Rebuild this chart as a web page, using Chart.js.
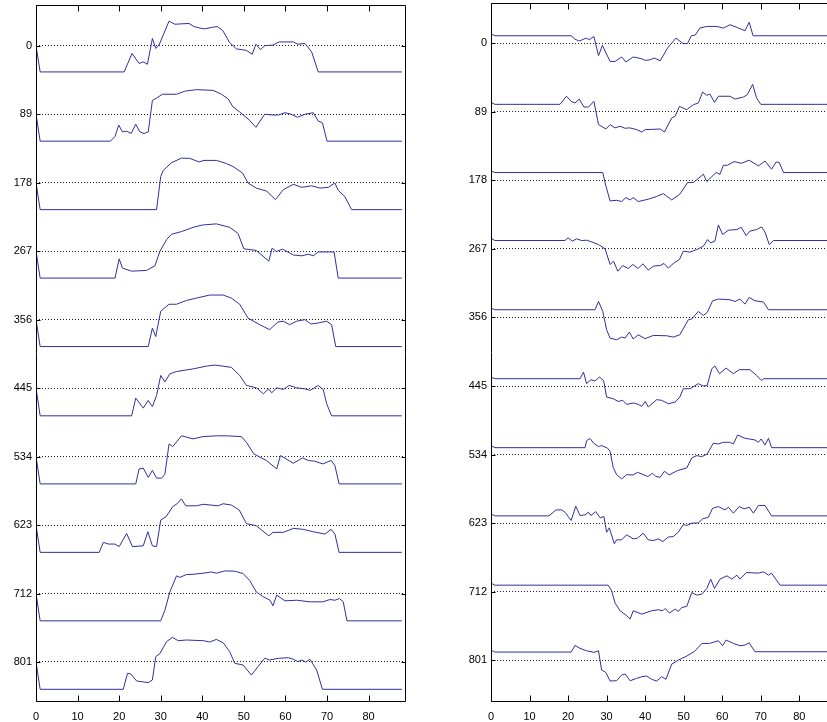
<!DOCTYPE html>
<html>
<head>
<meta charset="utf-8">
<script src="https://cdn.jsdelivr.net/npm/chart.js@4/dist/chart.umd.min.js"></script>
<style>
  html, body { margin: 0; padding: 0; background: #fff; overflow: hidden; }
  #wrap { position: relative; width: 827px; height: 722px; overflow: hidden; }
  #c1 { position: absolute; left: 0; top: 0; }
  #c2 { position: absolute; left: 455px; top: 0; }
</style>
</head>
<body>
<div id="wrap">
  <canvas id="c1" width="410" height="722"></canvas>
  <canvas id="c2" width="380" height="722"></canvas>
</div>
<script>
// channel offsets / y tick labels (same for both panels)
const offsets = [0, 89, 178, 267, 356, 445, 534, 623, 712, 801];
const xTicks = [0, 10, 20, 30, 40, 50, 60, 70, 80];

// left panel traces: [x, deviation from offset] (axis is reversed, + is down)
const L0 = [[0,0],[1,34],[21.2,34],[23.1,10],[24.8,23],[25.8,21],[26.8,24],[28,-9.5],[28.8,3.5],[29.6,-1],[32,-32],[33.4,-28],[36.8,-29],[38,-25],[39.4,-23],[40.6,-22],[42.4,-24],[43.6,-25],[44.9,-20],[46.6,-4],[48.2,4],[50.6,6],[52,11],[52.9,-2],[54,5],[55,0],[57,-1],[58.5,-5],[61.9,-5],[63,-2],[64.7,-3],[66.3,8],[67.9,34],[88,34]];
const L1 = [[0,0],[1,35],[17.9,35],[19,29],[19.9,14],[20.8,23],[21.8,22],[22.9,25],[24,13],[25,23],[26,25],[27,23],[28,-18],[29,-21],[30.4,-26],[33.8,-26],[35.8,-30],[38.6,-32],[42.6,-31],[44.6,-26],[46.2,-20],[47.4,-9.5],[49,-3],[51.4,8],[52.9,17],[55,0],[57,1],[58.3,1],[59.9,-2],[61.4,0],[62.9,4],[64.7,0],[66.7,-2],[67.9,9],[68.9,11],[70,35],[88,35]];
const L2 = [[0,0],[1,35],[29,35],[30,-8],[30.6,-16],[32.6,-26],[35,-32],[37,-31.6],[39.2,-27],[40.4,-29],[43.4,-29],[45.8,-25],[47.4,-21],[49.7,-12.5],[51,0.4],[53,7],[55.5,11],[57.6,22],[59.5,9],[61.9,2],[63.9,6],[66.3,4],[68.3,7],[70.3,6],[71.9,0.4],[72.7,10],[74.3,18],[75.9,35],[88,35]];
const L3 = [[0,0],[1,35],[19,35],[20,10],[20.8,22],[23,26],[26.6,25],[28.6,19],[29.8,0.4],[31.4,-15],[32.6,-22],[35,-25.5],[37.8,-31],[40,-34],[43.4,-35.5],[46.6,-31],[48.6,-23],[50,-3],[53,-1],[56,13],[56.8,-4],[57.8,0.4],[59.3,-2.6],[61.9,5],[63.9,6],[65.5,4],[66.7,6],[67.9,1],[71.7,1],[72.7,35],[88,35]];
const L4 = [[0,0],[1,35],[27,35],[28,11],[28.8,22],[30,-11],[32,-20],[33.8,-20],[36.2,-25],[38.6,-28],[41.8,-32],[45,-32],[47,-28],[49,-20],[51,-2],[53.8,6.5],[56.2,13],[58.2,3],[59.5,2],[61,6.5],[62.7,2],[64.7,0],[66.1,5.6],[67.9,4.3],[69.9,2],[71.1,6.5],[72.1,35],[88,35]];
const L5 = [[0,0],[1,36],[23,36],[24,13],[25.8,26],[27,16],[28,24],[29,9.5],[30,-16.5],[31,-8],[32.2,-18.6],[33.8,-21.6],[37.8,-25],[41,-28.6],[43,-30],[47,-27],[49,-16.5],[50.6,-3.5],[53,-0.4],[54.7,7.4],[55.9,1],[56.7,6],[57.9,-0.4],[59.5,1.7],[60.9,-3.5],[62.7,-0.4],[64.7,1],[65.9,3],[67.9,-3.5],[69.1,2],[69.9,20],[71.1,36],[88,36]];
const L6 = [[0,0],[1,35.5],[24,35.5],[24.8,16],[25.8,15],[27,27],[28,18],[29,28],[30.2,28],[31,23],[32,-16.5],[32.9,-13],[35,-27],[37.8,-23],[40.2,-26],[43.4,-27],[45.8,-27],[49.4,-26],[50.6,-18.6],[52.4,-3.5],[55.4,5],[57.9,16],[58.8,-1.3],[61.9,8.7],[64.1,1.7],[65.5,5],[67,6],[69,9.5],[71,5],[71.9,11.7],[72.9,35.5],[88,35.5]];
const L7 = [[0,0],[1,35.5],[15.2,35.5],[16.2,22.5],[17.4,24.7],[19,24.7],[20,28],[21.8,11],[23.2,28],[25.8,27],[26.9,8.7],[28,27],[29,28],[30,-6.5],[31.3,-11],[32.9,-24],[34,-28],[35,-34],[36,-25],[38.6,-25],[40.2,-27],[43.8,-25],[45,-27.7],[47,-26],[48.9,-19.5],[50.6,-2],[53,1],[56,14],[57,9.5],[59.5,9.5],[61.9,4.3],[64.3,5.6],[66.7,8.7],[69.5,11.7],[71,5.6],[71.9,11.7],[72.9,35.5],[88,35.5]];
const L8 = [[0,0],[1,35.5],[30,35.5],[31,21.6],[32.2,-2],[33.8,-23],[34.6,-21],[36.2,-24.7],[37.8,-25],[40.2,-26.4],[42.2,-28],[43.4,-26.4],[45.4,-29.4],[47.8,-29],[49.8,-26],[51.4,-17],[53,-2],[54.7,4.3],[56.3,8.7],[57,16],[57.9,2],[59.9,9.5],[62.7,8.7],[65.9,10.8],[69,10.8],[70.7,7.8],[71.9,8.7],[73,6.5],[73.9,10.8],[74.8,35.5],[88,35.5]];
const L9 = [[0,0],[1,35.5],[21,35.5],[22,14.7],[22.8,15.6],[24.2,24.7],[27,26.8],[28,23.4],[28.8,-7],[29.8,-11],[31.4,-26.4],[32.8,-32],[34.2,-27.7],[36.2,-28.6],[40.2,-27.7],[41.8,-26],[43.4,-29.4],[45,-25],[46.6,-13.4],[47.8,1.7],[49.8,3.9],[51.8,16.9],[53.4,6],[55,-4.8],[56.2,-2.6],[58.3,-4.8],[60.7,-5.6],[61.9,-3.5],[63,-0.4],[63.9,-2.6],[64.9,0],[65.9,-3.5],[67.5,10.4],[68.9,35.5],[88,35.5]];

// right panel traces
const R0 = [[0,-12],[1,-9.5],[20.8,-9.5],[21.8,-5],[22.9,-2.6],[24.7,-6.5],[25.5,-4.3],[26.7,-8.6],[27.9,16.4],[28.9,3],[30.9,23.8],[32.2,23.8],[33.9,18],[35,24.6],[36.9,18],[39.1,20.3],[40,22.5],[41.3,21.6],[42.4,19.4],[43.9,23],[45.8,6.5],[48,-6.5],[49.9,0.9],[51,0.4],[52,-9.5],[53,-10.4],[54.2,-19.4],[56,-21.6],[58.6,-21.6],[60.3,-19.4],[62,-23.8],[63.8,-20.3],[65.9,-16],[67,-27],[68,-9.5],[88,-9.5]];
const R1 = [[0,-12],[1,-9.5],[17.9,-9.5],[19.6,-20],[20.8,-13.4],[21.8,-11.2],[22.9,-16.4],[24.1,-6],[25.3,-6],[26.7,-13.4],[27.9,16.8],[29.8,22.5],[30.9,16.8],[32.2,21],[33.5,19],[34.8,21.6],[36,21],[37.8,23.3],[39.1,26.4],[40,23.3],[41.7,23],[43.9,22.5],[45,26.4],[46.9,8.2],[47.8,6],[48.9,-6.9],[50.8,-2.6],[52.5,-9],[53.8,-11.2],[54.9,-25.5],[56,-21.2],[56.8,-22.9],[58,-12],[59,-20],[62,-20],[63.3,-16.4],[65.5,-19],[66.5,-22],[67.9,-35.4],[68.9,-17.7],[70,-9.5],[88,-9.5]];
const R2 = [[0,-12],[1,-10],[29,-10],[29.8,7.3],[30.9,26.8],[32.6,26],[33.9,27.6],[35,22.5],[36.1,25.5],[36.9,22.5],[38.2,27.6],[40.8,24.6],[43,21],[44.7,17.3],[46.9,25.5],[49,18],[51,3],[52.5,3],[55.1,-7.8],[56,1.7],[58.4,-10],[59.4,-7.8],[60.3,-19.4],[61.3,-19.4],[63.1,-24.2],[65,-22],[67,-26],[69.4,-18.6],[71.1,-25],[72.8,-14.3],[74,-23.8],[74.8,-23],[75.9,-10],[88,-10]];
const R3 = [[0,-13.8],[1,-10.8],[19.2,-10.8],[20,-14.3],[21.1,-10],[22.2,-13],[23.5,-10.8],[24.8,-11.2],[26.1,-9],[27.9,-5.6],[29.6,0],[30.9,20.3],[31.8,16],[32.9,29],[34.2,21.6],[35.6,25.5],[36.8,20.3],[38.2,25.5],[39.4,19.4],[40.8,27.6],[42.1,22.5],[43.9,21.6],[44.9,19],[46,25],[47.3,19],[48.9,13.8],[49.9,3],[51.6,4.3],[53.4,0.9],[55.1,-3.5],[56.2,-12],[57,-7.8],[58.1,-10],[59,-31],[60.1,-18.6],[61.6,-24.2],[63.8,-25],[64.9,-28],[66.2,-17.3],[67.2,-23],[68.9,-25],[70.2,-28.5],[71.1,-21.6],[72.2,-5.6],[73.3,-10.8],[88,-10.8]];
const R4 = [[0,-12],[1,-10],[27,-10],[27.9,-20.7],[29,-7.8],[30,16],[30.9,26.8],[32.6,29],[33.9,25.5],[34.8,26.8],[35.9,19],[36.9,28],[38.2,22.5],[40,27.6],[42.1,23.3],[45.6,23.8],[47.3,25.5],[49,22.5],[51.2,3],[52.1,2],[53.8,-7.8],[55.1,-2.6],[56.1,-6.5],[57.5,-21.6],[59,-23.8],[62,-23],[63.3,-20.7],[64.6,-23.8],[65.9,-17.3],[67,-26],[68.5,-21.6],[70.7,-20],[72,-10],[88,-10]];
const R5 = [[0,-11.7],[1,-9.5],[23.1,-9.5],[24,-18.1],[24.8,-3],[25.9,-8.2],[27,-6.5],[28.1,-11.7],[29.2,-7.3],[30,14.3],[31.7,16.4],[33,20],[34.2,18.6],[35.2,23.8],[36.9,22],[38.2,23.8],[39.1,26.4],[40,20],[40.8,27.2],[43,17.7],[44.3,18.6],[46,23],[47.8,20.7],[49,14.3],[49.9,3.5],[51.6,3.5],[53.8,-3],[55.1,0],[56.1,-0.9],[57.3,-22.5],[58.1,-26],[59.3,-16],[61,-23.3],[62.9,-16],[64.4,-21.2],[67.2,-21.2],[68.9,-13.8],[70.2,-7.3],[70.8,-9.5],[88,-9.5]];
const R6 = [[0,-11.7],[1,-9],[24.4,-9],[24.8,-18],[25.7,-21],[26.6,-15],[27.9,-10.4],[28.7,-11.7],[30.2,-8.6],[30.9,-4.3],[31.7,16.4],[32.6,26],[33.9,31.5],[35.2,26],[36.9,26.4],[38,23],[39.1,25],[40.7,28.5],[41.9,24.2],[42.8,28.5],[43.9,29.4],[45,21.6],[46.2,26.4],[48.4,20.7],[50.8,17.3],[52.1,4.3],[53.4,1.3],[54.7,2.6],[56.1,-0.9],[57.7,-15],[59,-13.8],[60.3,-16],[61.9,-16],[62.9,-13.8],[64,-25.5],[65.9,-21.2],[68.5,-19],[69.4,-16],[70.1,-20.3],[71.1,-12.5],[72,-21.2],[72.8,-9],[88,-9]];
const R7 = [[0,-12],[1,-9.5],[15,-9.5],[16.9,-17.3],[18.3,-17.3],[19.2,-14.3],[20.8,-3.5],[22,-22],[23.1,-10],[24.4,-10.8],[25.3,-14.3],[25.9,-10],[27.2,-15],[28.3,-7],[29.3,-8.6],[30,11.7],[30.7,6],[32,26.8],[32.6,21.6],[33.9,21.6],[35.2,15],[36.9,20.3],[38,19.4],[39.5,13],[40.8,21.6],[42.1,22.5],[43.4,20.3],[44.6,23.8],[46,18],[47.3,17.3],[48.6,11.7],[49.9,1.7],[50.8,3],[52.1,0],[53.8,-0.4],[54.9,-5.6],[56.4,-7.8],[57.5,-19.4],[59,-21.6],[60.7,-17.3],[61.6,-20.7],[62.9,-13],[64.4,-21.6],[65.7,-18.6],[67,-20.7],[68.1,-13],[69.4,-23],[71.1,-23],[72.8,-9.5],[88,-9.5]];
const R8 = [[0,-11.2],[1,-8.6],[30.4,-8.6],[31.3,-1.3],[32.2,14.7],[33.5,24.6],[35.2,31],[36.1,35.4],[36.9,24.6],[39.1,29],[41.7,24.6],[43.4,23.3],[44.6,24.6],[45.2,21.6],[46.3,27.6],[47.8,22.5],[48.6,25.5],[49.5,20.3],[50.8,19],[52.1,0.9],[53.4,4.3],[54.7,3],[56,-4.3],[57,-16.4],[58,-4.3],[59.4,-16.4],[61.2,-20.7],[62.5,-16.4],[63.8,-21.6],[64.6,-16.4],[66.3,-25],[69.4,-24.2],[70.7,-26],[72,-21.6],[72.8,-24.2],[75,-8.6],[88,-8.6]];
const R9 = [[0,-13.4],[1,-10.8],[20.8,-10.8],[21.8,-19.4],[23.1,-15.6],[24.8,-12.5],[26.7,-10.4],[27.9,-12.5],[28.7,12.5],[29.8,15.6],[30.9,26.8],[32.6,26.4],[33.9,19],[34.8,17.7],[36.1,26.4],[37.8,23.3],[39.1,21.2],[40.4,20.3],[41.7,24.6],[43,26.8],[44.3,21.2],[45.4,24.6],[46.9,4.8],[48.6,-0.4],[50.8,-5.6],[52.9,-12],[54.7,-22],[56.7,-22],[59,-25.5],[60.1,-19],[61,-26.4],[62.9,-22],[64.6,-19],[65.9,-19.9],[67,-22.9],[68.5,-11.2],[88,-11.2]];

const leftTraces = [L0, L1, L2, L3, L4, L5, L6, L7, L8, L9];
const rightTraces = [R0, R1, R2, R3, R4, R5, R6, R7, R8, R9];

const lineColor = '#2f2f9f';
const fontFamily = "'Liberation Sans Narrow', 'Liberation Sans', Arial, sans-serif";

// box around the plot + inward tick marks, matlab style
const framePlugin = {
    id: 'frame',
    afterDraw(chart) {
        const ctx = chart.ctx, a = chart.chartArea;
        const x = chart.scales.x, y = chart.scales.y;
        const L = Math.round(a.left) + 0.5, R = Math.round(a.right) - 0.5;
        const T = Math.round(a.top) + 0.5, B = Math.round(a.bottom) - 0.5;
        ctx.save();
        ctx.strokeStyle = '#000';
        ctx.lineWidth = 1;
        ctx.beginPath();
        ctx.rect(L, T, R - L, B - T);
        xTicks.forEach(v => {
            const px = Math.round(x.getPixelForValue(v)) + 0.5;
            ctx.moveTo(px, B); ctx.lineTo(px, B - 6);
            ctx.moveTo(px, T); ctx.lineTo(px, T + 6);
        });
        offsets.forEach(v => {
            const py = Math.round(y.getPixelForValue(v)) + 0.5;
            ctx.moveTo(L, py); ctx.lineTo(L + 4, py);
            ctx.moveTo(R, py); ctx.lineTo(R - 4, py);
        });
        ctx.stroke();
        ctx.restore();
    }
};

function makeChart(id, traces, yMin, yMax, padTop, padRight) {
    var datasets = traces.map((tr, i) => ({
        data: tr.map(p => ({ x: p[0], y: offsets[i] + p[1] })),
        borderColor: lineColor,
        borderWidth: 1,
        pointRadius: 0,
        tension: 0,
        fill: false
    }));
    return new Chart(document.getElementById(id), {
        type: 'line',
        data: { datasets: datasets },
        options: {
            responsive: false,
            animation: false,
            devicePixelRatio: 1,
            layout: { padding: { top: padTop, right: padRight, left: 0, bottom: 0 } },
            plugins: { legend: { display: false }, tooltip: { enabled: false } },
            scales: {
                x: {
                    type: 'linear', min: 0, max: 89,
                    grid: { display: false, drawTicks: false },
                    border: { display: false },
                    afterBuildTicks: s => { s.ticks = xTicks.map(v => ({ value: v })); },
                    afterFit: s => { s.height = 20; s.paddingLeft = 0; s.paddingRight = 0; },
                    ticks: { padding: 8, color: '#000', autoSkip: false, maxRotation: 0,
                             font: { family: fontFamily, size: 11 } }
                },
                y: {
                    type: 'linear', min: yMin, max: yMax, reverse: true,
                    grid: { color: '#222', lineWidth: 1, drawTicks: false },
                    border: { display: false, dash: [1, 2] },
                    afterBuildTicks: s => { s.ticks = offsets.map(v => ({ value: v })); },
                    afterFit: s => { s.width = 36; s.paddingTop = 0; s.paddingBottom = 0; },
                    ticks: { padding: 4, color: '#000', autoSkip: false,
                             font: { family: fontFamily, size: 11 } }
                }
            }
        },
        plugins: [framePlugin]
    });
}

makeChart('c1', leftTraces, -53, 853, 5, 4);
makeChart('c2', rightTraces, -52, 855, 3, 1);
</script>
</body>
</html>
